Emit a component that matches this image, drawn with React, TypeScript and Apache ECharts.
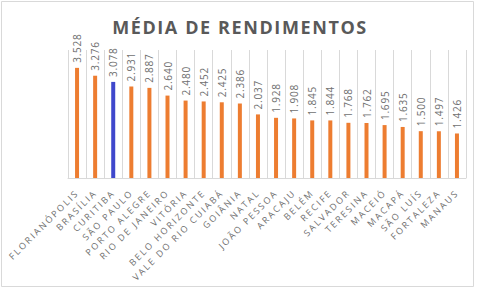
import React, { useEffect, useRef } from 'react';
import * as echarts from 'echarts';

// Average income per city (R$), sorted from highest to lowest
const cities: string[] = [
  'FLORIANÓPOLIS',
  'BRASÍLIA',
  'CURITIBA',
  'SÃO PAULO',
  'PORTO ALEGRE',
  'RIO DE JANEIRO',
  'VITÓRIA',
  'BELO HORIZONTE',
  'VALE DO RIO CUIABÁ',
  'GOIÂNIA',
  'NATAL',
  'JOÃO PESSOA',
  'ARACAJU',
  'BELÉM',
  'RECIFE',
  'SALVADOR',
  'TERESINA',
  'MACEIÓ',
  'MACAPÁ',
  'SÃO LUÍS',
  'FORTALEZA',
  'MANAUS',
];

const rendimentos: number[] = [
  3528, 3276, 3078, 2931, 2887, 2640, 2480, 2452, 2425, 2386, 2037,
  1928, 1908, 1845, 1844, 1768, 1762, 1695, 1635, 1500, 1497, 1426,
];

const highlightCity = 'CURITIBA';
const TITLE = 'MÉDIA DE RENDIMENTOS';

const ORANGE = '#ED7D31';
const BLUE = '#3F48CC';
const GRID_GRAY = '#D9D9D9';
const TITLE_GRAY = '#595959';
const LABEL_GRAY = '#6F6F6F';

// pt-BR thousands separator: 3528 -> "3.528"
function formatBR(v: number): string {
  return String(Math.round(v)).replace(/\B(?=(\d{3})+(?!\d))/g, '.');
}

export default function App() {
  const ref = useRef<HTMLDivElement>(null);

  useEffect(() => {
    const el = ref.current;
    if (!el) return;
    const chart = echarts.init(el, undefined, { renderer: 'svg' });

    chart.setOption({
      animation: false,
      backgroundColor: '#FFFFFF',
      textStyle: { fontFamily: 'Open Sans' },
      graphic: [
        {
          type: 'rect',
          silent: true,
          shape: { x: 1.5, y: 1.5, width: 472, height: 285 },
          style: { fill: 'none', stroke: GRID_GRAY, lineWidth: 1 },
        },
        {
          type: 'text',
          x: 240,
          y: 26.5,
          silent: true,
          style: {
            text: TITLE,
            fill: TITLE_GRAY,
            fontSize: 18,
            fontWeight: 'bold',
            fontFamily: 'Open Sans',
            align: 'center',
            verticalAlign: 'middle',
            textAlign: 'center',
            textVerticalAlign: 'middle',
          },
        },
      ],
      grid: {
        left: 68,
        right: 14,
        top: 50,
        bottom: 111,
        containLabel: false,
        outerBoundsMode: 'none',
      },
      xAxis: {
        type: 'category',
        data: cities,
        axisLine: { show: true, lineStyle: { color: GRID_GRAY, width: 1 } },
        axisTick: { show: false },
        splitLine: { show: true, lineStyle: { color: GRID_GRAY, width: 1 } },
        axisLabel: {
          interval: 0,
          rotate: 45,
          margin: 13,
          color: LABEL_GRAY,
          fontSize: 9,
          fontFamily: 'Open Sans',
        },
      },
      yAxis: {
        type: 'value',
        min: 0,
        max: 4100,
        show: false,
        splitLine: { show: false },
      },
      series: [
        {
          type: 'bar',
          barWidth: 4,
          data: rendimentos.map((v, i) => ({
            value: v,
            itemStyle: { color: cities[i] === highlightCity ? BLUE : ORANGE },
          })),
          label: {
            show: true,
            position: 'top',
            rotate: 90,
            align: 'left',
            verticalAlign: 'middle',
            distance: 5,
            color: LABEL_GRAY,
            fontSize: 10,
            fontFamily: 'Open Sans',
            formatter: (p: any) => formatBR(p.value),
          },
        },
      ],
    });

    // Spread the letters a little, Office-style
    el.querySelectorAll('svg text').forEach((node) => {
      const t = node as SVGTextElement;
      const fs = parseFloat(window.getComputedStyle(t).fontSize);
      const ls = fs >= 16 ? 1.6 : fs >= 9.5 ? 0.8 : 2;
      t.style.letterSpacing = ls + 'px';
    });

    return () => chart.dispose();
  }, []);

  return (
    <div
      ref={ref}
      style={{ position: 'fixed', left: 0, top: 0, width: 480, height: 289, background: '#fff' }}
    />
  );
}
